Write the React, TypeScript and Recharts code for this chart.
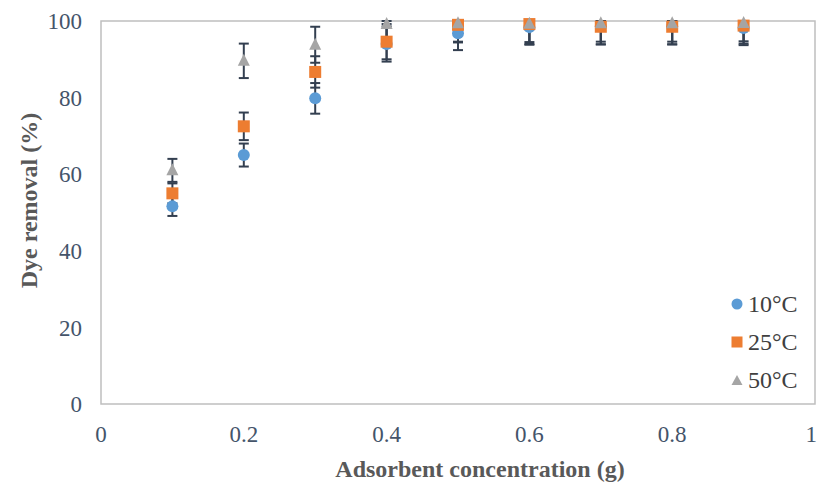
import {
  ScatterChart,
  Scatter,
  XAxis,
  YAxis,
  ErrorBar,
  ReferenceArea,
  Label,
} from "recharts";

const concentrations = [0.1, 0.2, 0.3, 0.4, 0.5, 0.6, 0.7, 0.8, 0.9];

const removal10 = [51.6, 65.0, 79.8, 94.0, 96.8, 98.4, 98.6, 98.6, 98.2];
const removal25 = [55.0, 72.5, 86.7, 94.6, 99.0, 99.2, 98.5, 98.5, 98.8];
const removal50 = [61.0, 89.6, 93.8, 99.2, 99.4, 99.3, 99.4, 99.4, 99.5];

const error10 = [2.5, 3.0, 4.0, 4.6, 4.4, 4.6, 4.7, 4.7, 4.5];
const error25 = [2.6, 3.6, 4.1, 4.6, 4.6, 5.2, 4.6, 4.6, 4.7];
const error50 = [3.0, 4.5, 4.7, 4.7, 4.8, 4.8, 4.8, 4.8, 4.8];

const seriesNames = ["10°C", "25°C", "50°C"];
const seriesColors = ["#5b9bd5", "#ed7d31", "#a5a5a5"];

const xTicks = [0, 0.2, 0.4, 0.6, 0.8, 1];
const yTicks = [0, 20, 40, 60, 80, 100];

const Y_MAX = 100;
const FONT = '"Liberation Serif", "Times New Roman", serif';
const TICK_COLOR = "#44546a";
const TITLE_COLOR = "#595959";
const ERR_COLOR = "#333f50";

// error bars are cut at the top of the plot, like excel does
function build(values: number[], errors: number[]) {
  return concentrations.map((x, i) => ({
    x,
    y: values[i],
    err: [errors[i], Math.min(errors[i], Y_MAX - values[i])],
  }));
}

const data10 = build(removal10, error10);
const data25 = build(removal25, error25);
const data50 = build(removal50, error50);

function CircleDot({ cx, cy }: any) {
  return <circle cx={cx} cy={cy} r={6} fill={seriesColors[0]} />;
}

function SquareDot({ cx, cy }: any) {
  return <rect x={cx - 6} y={cy - 6} width={12} height={12} fill={seriesColors[1]} />;
}

function TriangleDot({ cx, cy }: any) {
  return (
    <polygon
      points={`${cx},${cy - 7} ${cx + 6},${cy + 5} ${cx - 6},${cy + 5}`}
      fill={seriesColors[2]}
    />
  );
}

function LegendIcon({ index }: { index: number }) {
  const c = seriesColors[index];
  return (
    <svg width={14} height={14} style={{ marginRight: 4 }}>
      {index === 0 && <circle cx={7} cy={7} r={5.5} fill={c} />}
      {index === 1 && <rect x={1.5} y={1.5} width={11} height={11} fill={c} />}
      {index === 2 && <polygon points="7,2 12.5,12 1.5,12" fill={c} />}
    </svg>
  );
}

function ChartLegend() {
  return (
    <div
      style={{
        position: "absolute",
        left: 730,
        top: 285,
        fontFamily: FONT,
        fontSize: 24,
        color: "#404040",
      }}
    >
      {seriesNames.map((name, i) => (
        <div key={name} style={{ display: "flex", alignItems: "center", height: 38 }}>
          <LegendIcon index={i} />
          <span>{name}</span>
        </div>
      ))}
    </div>
  );
}

export default function App() {
  return (
    <div style={{ position: "absolute", left: 0, top: 0, width: 817, height: 484, background: "#fff" }}>
      <ScatterChart
        width={817}
        height={484}
        margin={{ top: 21, right: 2, bottom: 0, left: 0 }}
      >
        <XAxis
          type="number"
          dataKey="x"
          domain={[0, 1]}
          ticks={xTicks}
          axisLine={false}
          tickLine={false}
          tickSize={0}
          tickMargin={22}
          height={80}
          tick={{ fontFamily: FONT, fontSize: 23, fill: TICK_COLOR }}
        >
          <Label
            value="Adsorbent concentration (g)"
            position="center"
            dx={22}
            dy={24}
            style={{ fontFamily: FONT, fontSize: 24, fontWeight: "bold", fill: TITLE_COLOR }}
          />
        </XAxis>
        <YAxis
          type="number"
          dataKey="y"
          domain={[0, Y_MAX]}
          ticks={yTicks}
          axisLine={false}
          tickLine={false}
          tickSize={0}
          tickMargin={19}
          width={101}
          tick={{ fontFamily: FONT, fontSize: 23, fill: TICK_COLOR }}
        >
          <Label
            value="Dye removal (%)"
            angle={-90}
            position="center"
            dx={-22}
            dy={-12}
            style={{ fontFamily: FONT, fontSize: 24, fontWeight: "bold", fill: TITLE_COLOR }}
          />
        </YAxis>
        <ReferenceArea
          x1={0}
          x2={1}
          y1={0}
          y2={Y_MAX}
          fill="none"
          stroke="#bfbfbf"
          strokeWidth={1.5}
        />
        <Scatter name={seriesNames[0]} data={data10} shape={<CircleDot />} isAnimationActive={false}>
          <ErrorBar dataKey="err" direction="y" width={5} stroke={ERR_COLOR} strokeWidth={2} />
        </Scatter>
        <Scatter name={seriesNames[1]} data={data25} shape={<SquareDot />} isAnimationActive={false}>
          <ErrorBar dataKey="err" direction="y" width={5} stroke={ERR_COLOR} strokeWidth={2} />
        </Scatter>
        <Scatter name={seriesNames[2]} data={data50} shape={<TriangleDot />} isAnimationActive={false}>
          <ErrorBar dataKey="err" direction="y" width={5} stroke={ERR_COLOR} strokeWidth={2} />
        </Scatter>
      </ScatterChart>
      <ChartLegend />
    </div>
  );
}
